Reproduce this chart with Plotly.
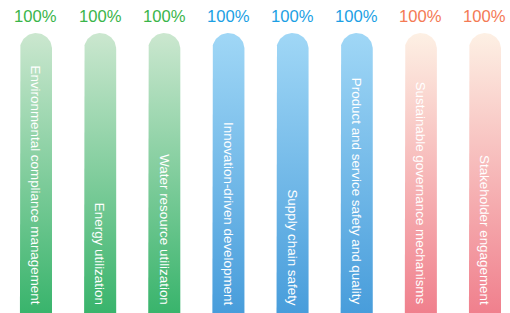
import numpy as np
import plotly.graph_objects as go

CATEGORIES = [
    "Environmental compliance management",
    "Energy utilization",
    "Water resource utilization",
    "Innovation-driven development",
    "Supply chain safety",
    "Product and service safety and quality",
    "Sustainable governance mechanisms",
    "Stakeholder engagement",
]
VALUES = [100, 100, 100, 100, 100, 100, 100, 100]
GROUPS = ["green", "green", "green", "blue", "blue", "blue", "pink", "pink"]

PALETTE = {
    "green": {"top": "#cbe7cf", "bottom": "#39b46c", "label": "#3ab54a"},
    "blue": {"top": "#a0d7f6", "bottom": "#489ddb", "label": "#1c9fe4"},
    "pink": {"top": "#fdf0e4", "bottom": "#f0808d", "label": "#f47a55"},
}

W, H = 510, 313
X_RANGE = [-0.561, 7.39]
Y_RANGE = [0, 111.8]
BAR_HALF = 0.25

px_x = W / (X_RANGE[1] - X_RANGE[0])
px_y = H / (Y_RANGE[1] - Y_RANGE[0])
r_px = BAR_HALF * px_x
ry = r_px / px_y

fig = go.Figure()
for i, (cat, v, g) in enumerate(zip(CATEGORIES, VALUES, GROUPS)):
    t = np.linspace(np.pi, 0, 40)
    xs = [i - BAR_HALF] + list(i + BAR_HALF * np.cos(t)) + [i + BAR_HALF, i - BAR_HALF]
    ys = [0] + list((v - ry) + ry * np.sin(t)) + [0, 0]
    c = PALETTE[g]
    fig.add_trace(go.Scatter(
        x=xs, y=ys, mode="lines", fill="toself",
        line=dict(width=0, color=c["bottom"]),
        fillgradient=dict(type="vertical", colorscale=[[0, c["bottom"]], [1, c["top"]]]),
        hoverinfo="skip", showlegend=False, name=cat,
    ))
    fig.add_annotation(
        x=i, y=v, text=f"{v}%", showarrow=False, yanchor="middle", yshift=17,
        font=dict(family="Liberation Sans, Arial, sans-serif", size=16.6, color=c["label"]),
    )
    fig.add_annotation(
        x=i, y=0, text=cat, showarrow=False, textangle=90, yanchor="bottom", yshift=6,
        font=dict(family="Liberation Sans, Arial, sans-serif", size=13.4, color="#ffffff"),
    )

fig.update_layout(
    width=W, height=H,
    margin=dict(l=0, r=0, t=0, b=0),
    paper_bgcolor="#ffffff", plot_bgcolor="#ffffff",
    xaxis=dict(range=X_RANGE, visible=False, fixedrange=True),
    yaxis=dict(range=Y_RANGE, visible=False, fixedrange=True),
    showlegend=False,
)

fig.write_html(
    "out.html",
    config={"displayModeBar": False},
    post_script="document.body.style.margin='0px';document.body.style.overflow='hidden';",
)
